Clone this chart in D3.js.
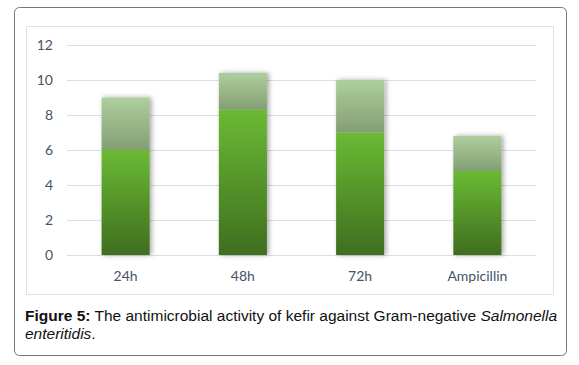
<!DOCTYPE html>
<html>
<head>
  <script src="https://d3js.org/d3.v7.min.js"></script>
  <style>
    body { margin: 0; background: #fff; font-family: "Liberation Sans", Arial, sans-serif; }
    .axis text { font-family: Lato, "Open Sans", sans-serif; font-size: 14px; fill: #44546a; }
  </style>
</head>
<body>
  <div id="chart"></div>
  <script>
    const categories = ["24h", "48h", "72h", "Ampicillin"];
    const lowerValues = [6, 8.3, 7, 4.8];
    const upperValues = [3, 2.1, 3, 2];
    const yTicks = [0, 2, 4, 6, 8, 10, 12];

    const W = 579, H = 365;
    const plot = {left: 67, right: 536, top: 45, bottom: 255};

    const svg = d3.select("#chart").append("svg")
      .attr("width", W).attr("height", H);

    const defs = svg.append("defs");

    const gLow = defs.append("linearGradient").attr("id", "gLow")
      .attr("x1", 0).attr("y1", 0).attr("x2", 0).attr("y2", 1);
    gLow.append("stop").attr("offset", "0%").attr("stop-color", "#6aba34");
    gLow.append("stop").attr("offset", "100%").attr("stop-color", "#3f6e1f");

    const gUp = defs.append("linearGradient").attr("id", "gUp")
      .attr("x1", 0).attr("y1", 0).attr("x2", 0).attr("y2", 1);
    gUp.append("stop").attr("offset", "0%").attr("stop-color", "#adcf9d");
    gUp.append("stop").attr("offset", "100%").attr("stop-color", "#849e74");

    const shadow = defs.append("filter").attr("id", "shadow")
      .attr("x", "-30%").attr("y", "-20%").attr("width", "160%").attr("height", "140%");
    shadow.append("feDropShadow")
      .attr("dx", 2).attr("dy", 0).attr("stdDeviation", 2.5)
      .attr("flood-color", "#000").attr("flood-opacity", 0.35);

    // outer frame
    svg.append("rect")
      .attr("x", 14.5).attr("y", 7.5).attr("width", 552).attr("height", 348)
      .attr("rx", 5).attr("fill", "#fff").attr("stroke", "#777");

    // chart area border
    svg.append("rect")
      .attr("x", 26.5).attr("y", 26.5).attr("width", 527).attr("height", 268)
      .attr("fill", "#fff").attr("stroke", "#dbe2ea");

    const x = d3.scaleBand().domain(categories)
      .range([plot.left, plot.right]).paddingInner(0.59).paddingOuter(0.295);
    const y = d3.scaleLinear().domain([0, 12]).range([plot.bottom, plot.top]);

    // gridlines
    svg.append("g").selectAll("line").data(yTicks).join("line")
      .attr("x1", plot.left).attr("x2", plot.right)
      .attr("y1", d => Math.round(y(d)) + 0.5).attr("y2", d => Math.round(y(d)) + 0.5)
      .attr("stroke", "#d9dee5");

    // y axis labels
    const yAxis = svg.append("g").attr("class", "axis")
      .attr("transform", `translate(${plot.left},0)`)
      .call(d3.axisLeft(y).tickValues(yTicks).tickSize(0).tickPadding(14));
    yAxis.select(".domain").remove();

    // x axis labels
    const xAxis = svg.append("g").attr("class", "axis")
      .attr("transform", `translate(0,${plot.bottom})`)
      .call(d3.axisBottom(x).tickSize(0).tickPadding(16));
    xAxis.select(".domain").remove();

    const data = categories.map((c, i) => ({cat: c, low: lowerValues[i], up: upperValues[i]}));

    const bars = svg.append("g").selectAll("g").data(data).join("g")
      .attr("filter", "url(#shadow)");

    bars.append("rect")
      .attr("x", d => x(d.cat)).attr("width", x.bandwidth())
      .attr("y", d => y(d.low)).attr("height", d => y(0) - y(d.low))
      .attr("fill", "url(#gLow)");

    bars.append("rect")
      .attr("x", d => x(d.cat)).attr("width", x.bandwidth())
      .attr("y", d => y(d.low + d.up)).attr("height", d => y(d.low) - y(d.low + d.up))
      .attr("fill", "url(#gUp)");

    // caption
    const cap = svg.append("text").attr("x", 25).attr("y", 321)
      .attr("font-size", 15.5).attr("fill", "#111");
    cap.append("tspan").attr("font-weight", "bold").text("Figure 5:");
    cap.append("tspan").text(" The antimicrobial activity of kefir against Gram-negative ");
    cap.append("tspan").attr("font-style", "italic").text("Salmonella");
    const cap2 = svg.append("text").attr("x", 25).attr("y", 339)
      .attr("font-size", 15.5).attr("fill", "#111");
    cap2.append("tspan").attr("font-style", "italic").text("enteritidis");
    cap2.append("tspan").text(".");
  </script>
</body>
</html>
